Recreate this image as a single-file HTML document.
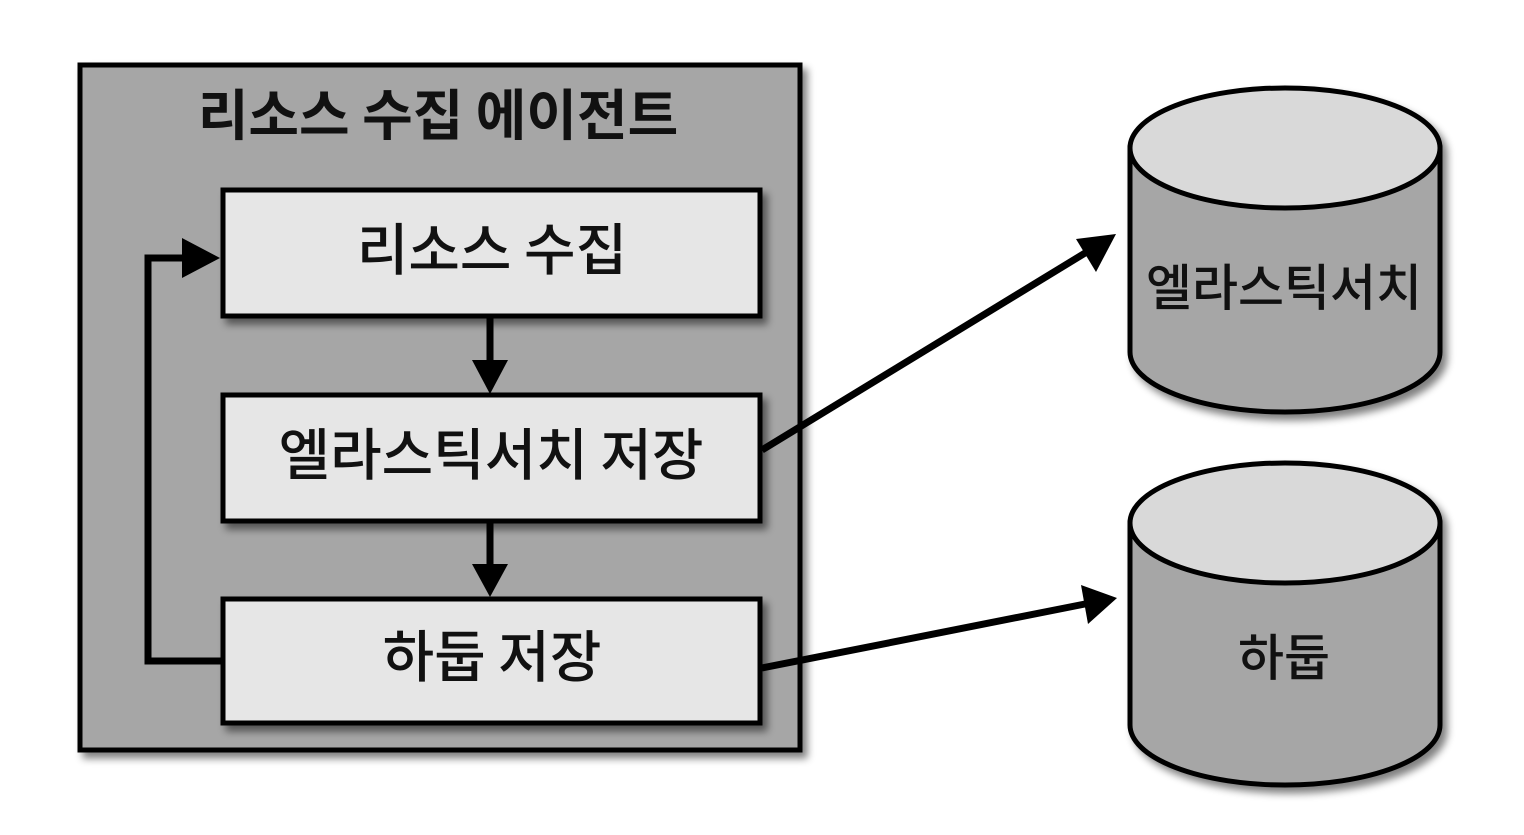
<!DOCTYPE html>
<html><head><meta charset="utf-8"><style>
body{margin:0;background:#fff}
text{font-family:"Noto Sans CJK KR","Liberation Sans",sans-serif;fill:#111}
</style></head><body>
<svg width="1524" height="830" viewBox="0 0 1524 830" xmlns="http://www.w3.org/2000/svg">
<defs>
<filter id="sh" x="-10%" y="-10%" width="130%" height="130%"><feGaussianBlur in="SourceAlpha" stdDeviation="4"/><feOffset dx="5" dy="6"/><feComponentTransfer><feFuncA type="linear" slope="0.5"/></feComponentTransfer><feMerge><feMergeNode/><feMergeNode in="SourceGraphic"/></feMerge></filter>
</defs>
<rect x="80" y="65" width="720" height="685" fill="#a6a6a6" stroke="#000" stroke-width="5" filter="url(#sh)"/>
<text x="438" y="120" font-size="55" font-weight="700" text-anchor="middle" dominant-baseline="middle">리소스 수집 에이전트</text>
<g filter="url(#sh)">
<rect x="223" y="190" width="537" height="126" fill="#e6e6e6" stroke="#000" stroke-width="5"/>
<rect x="223" y="395" width="537" height="126" fill="#e6e6e6" stroke="#000" stroke-width="5"/>
<rect x="223" y="599" width="537" height="124" fill="#e6e6e6" stroke="#000" stroke-width="5"/>
</g>
<text x="492" y="255" font-size="56" font-weight="500" text-anchor="middle" dominant-baseline="middle">리소스 수집</text>
<text x="491" y="460" font-size="56" font-weight="500" text-anchor="middle" dominant-baseline="middle">엘라스틱서치 저장</text>
<text x="492" y="662" font-size="56" font-weight="500" text-anchor="middle" dominant-baseline="middle">하둡 저장</text>
<line x1="490" y1="318" x2="490" y2="362" stroke="#000" stroke-width="7"/>
<path d="M472,360 L508,360 L490,394z" fill="#000"/>
<line x1="490" y1="523" x2="490" y2="566" stroke="#000" stroke-width="7"/>
<path d="M472,564 L508,564 L490,597z" fill="#000"/>
<path d="M221,661 L148,661 L148,258 L186,258" fill="none" stroke="#000" stroke-width="7"/>
<path d="M182,238 L220,258 L182,278z" fill="#000"/>
<line x1="762" y1="450" x2="1090" y2="250" stroke="#000" stroke-width="7"/>
<path d="M1116,234 L1096,272 L1076,239z" fill="#000"/>
<line x1="762" y1="668" x2="1085" y2="604" stroke="#000" stroke-width="7"/>
<path d="M1117,598 L1088,624 L1081,585z" fill="#000"/>
<g filter="url(#sh)">
<path d="M1130,148 L1130,352 A155,60 0 0 0 1440,352 L1440,148 Z" fill="#a6a6a6" stroke="#000" stroke-width="5"/>
<ellipse cx="1285" cy="148" rx="155" ry="60" fill="#d9d9d9" stroke="#000" stroke-width="5"/>
<path d="M1130,523 L1130,725 A155,60 0 0 0 1440,725 L1440,523 Z" fill="#a6a6a6" stroke="#000" stroke-width="5"/>
<ellipse cx="1285" cy="523" rx="155" ry="60" fill="#d9d9d9" stroke="#000" stroke-width="5"/>
</g>
<text x="1284" y="292" font-size="50" font-weight="500" text-anchor="middle" dominant-baseline="middle">엘라스틱서치</text>
<text x="1284" y="662" font-size="50" font-weight="500" text-anchor="middle" dominant-baseline="middle">하둡</text>
</svg>
</body></html>
